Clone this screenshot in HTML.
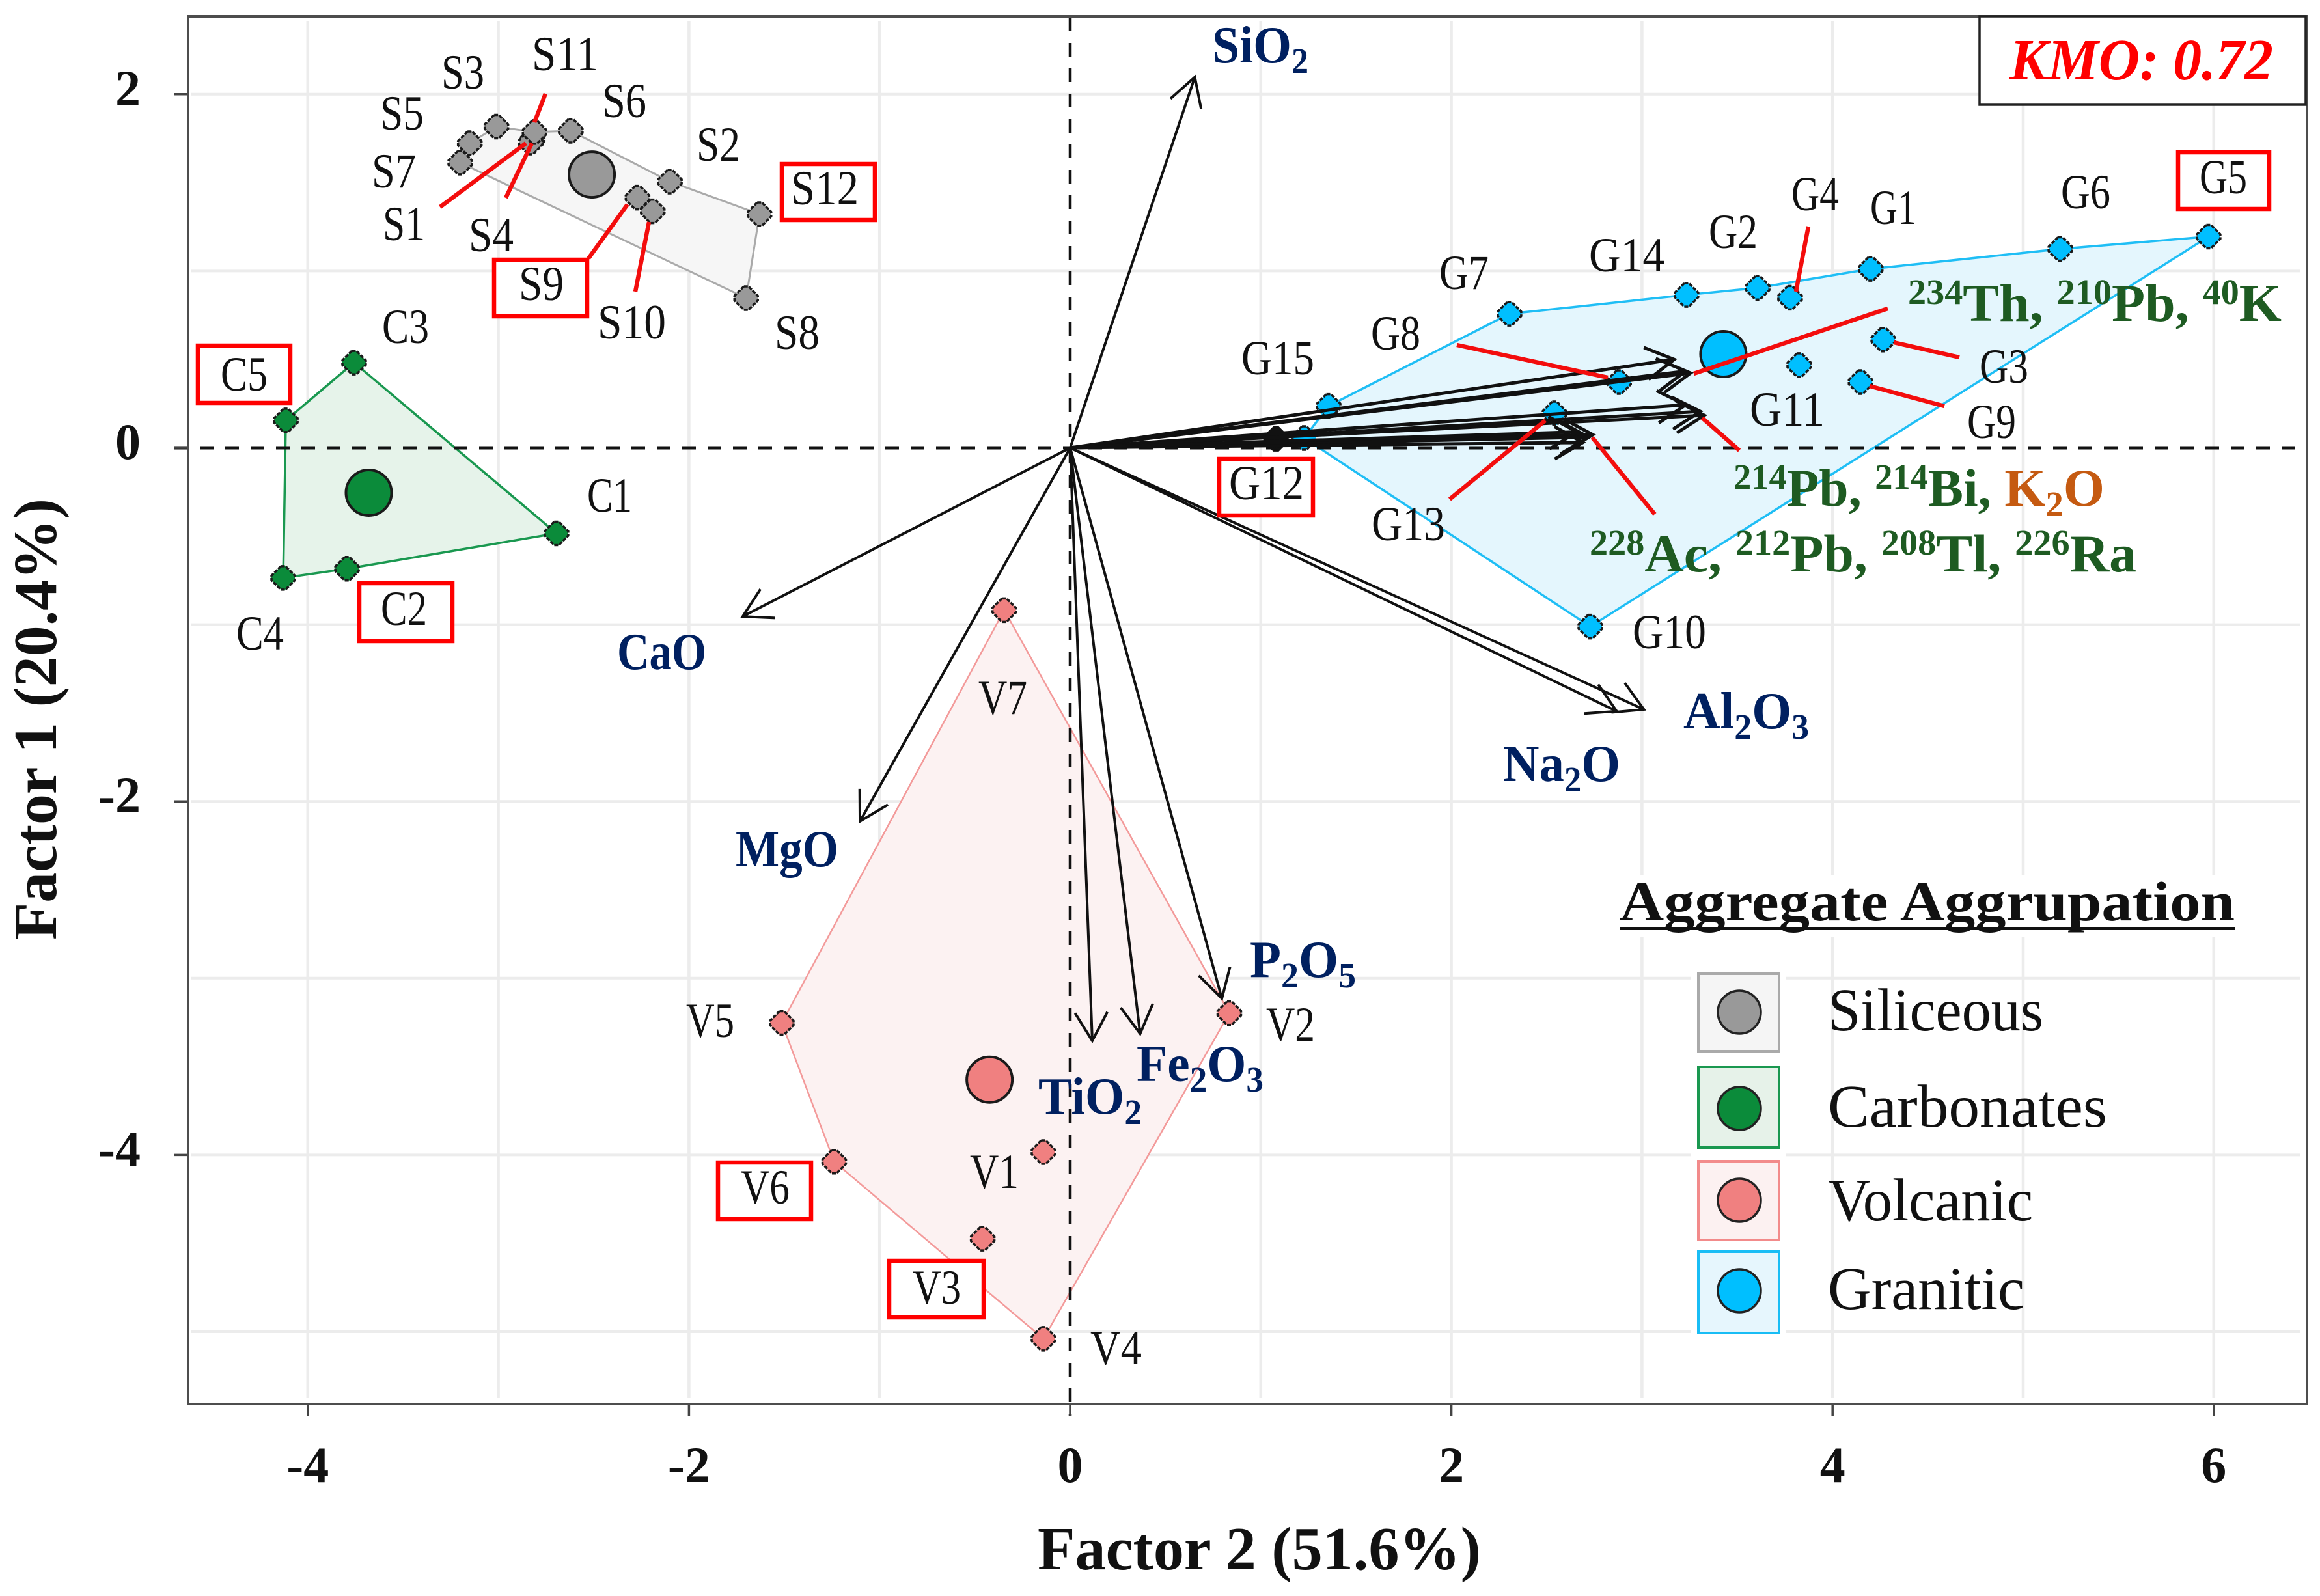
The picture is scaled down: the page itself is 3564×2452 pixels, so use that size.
<!DOCTYPE html>
<html lang="en">
<head>
<meta charset="utf-8">
<title>Factor analysis biplot</title>
<style>
html,body{margin:0;padding:0;background:#fff;}
svg{display:block;}
text{font-family:"Liberation Serif","DejaVu Serif",serif;}
.pt{font-size:75px;fill:#111;}
.ox{font-size:80px;font-weight:bold;fill:#002060;}
.ra{font-size:82px;font-weight:bold;fill:#1e5b22;}
.tk{font-size:78px;font-weight:bold;fill:#111;}
.lg{font-size:93px;fill:#111;}
.box{fill:#fff;stroke:#ff0000;stroke-width:6.5;}
.ld{stroke:#f30d0d;stroke-width:6.5;stroke-linecap:butt;}
</style>
</head>
<body>
<svg id="chart" xmlns="http://www.w3.org/2000/svg" width="3564" height="2452" viewBox="0 0 3564 2452">
  <rect x="0" y="0" width="3564" height="2452" fill="#ffffff"/>
  <g id="grid"></g>
  <rect x="2597" y="1490" width="147" height="570" fill="#ffffff"/>
  <rect x="2485" y="1345" width="955" height="95" fill="#ffffff"/>
  <g id="hulls"></g>
  <g id="zero"></g>
  <g id="ticks"></g>
  <rect x="289" y="25" width="3255" height="2132" fill="none" stroke="#4d4d4d" stroke-width="4"/>
  <g id="points"></g>
  <g id="arrows"></g>

  <g>
    <rect class="box" x="1201" y="252" width="143" height="86"/>
    <rect class="box" x="759" y="399" width="143" height="87"/>
    <rect class="box" x="304" y="531" width="142" height="88"/>
    <rect class="box" x="552" y="896" width="143" height="89"/>
    <rect class="box" x="3346" y="234" width="140" height="87"/>
    <rect class="box" x="1873" y="705" width="144" height="87"/>
    <rect class="box" x="1103" y="1786" width="143" height="87"/>
    <rect class="box" x="1366" y="1937" width="145" height="87"/>
  </g>

  <g>
    <text class="pt" x="678" y="136" textLength="66" lengthAdjust="spacingAndGlyphs">S3</text>
    <text class="pt" x="817" y="108" textLength="102" lengthAdjust="spacingAndGlyphs">S11</text>
    <text class="pt" x="584" y="199" textLength="67" lengthAdjust="spacingAndGlyphs">S5</text>
    <text class="pt" x="925" y="180" textLength="68" lengthAdjust="spacingAndGlyphs">S6</text>
    <text class="pt" x="571" y="288" textLength="68" lengthAdjust="spacingAndGlyphs">S7</text>
    <text class="pt" x="1070" y="247" textLength="67" lengthAdjust="spacingAndGlyphs">S2</text>
    <text class="pt" x="588" y="369" textLength="65" lengthAdjust="spacingAndGlyphs">S1</text>
    <text class="pt" x="720" y="386" textLength="69" lengthAdjust="spacingAndGlyphs">S4</text>
    <text class="pt" x="797" y="461" textLength="69" lengthAdjust="spacingAndGlyphs">S9</text>
    <text class="pt" x="918" y="520" textLength="105" lengthAdjust="spacingAndGlyphs">S10</text>
    <text class="pt" x="1190" y="536" textLength="69" lengthAdjust="spacingAndGlyphs">S8</text>
    <text class="pt" x="1215" y="314" textLength="104" lengthAdjust="spacingAndGlyphs">S12</text>
    <text class="pt" x="587" y="527" textLength="72" lengthAdjust="spacingAndGlyphs">C3</text>
    <text class="pt" x="339" y="600" textLength="72" lengthAdjust="spacingAndGlyphs">C5</text>
    <text class="pt" x="902" y="786" textLength="69" lengthAdjust="spacingAndGlyphs">C1</text>
    <text class="pt" x="585" y="960" textLength="71" lengthAdjust="spacingAndGlyphs">C2</text>
    <text class="pt" x="363" y="998" textLength="73" lengthAdjust="spacingAndGlyphs">C4</text>
    <text class="pt" x="2752" y="323" textLength="73" lengthAdjust="spacingAndGlyphs">G4</text>
    <text class="pt" x="2873" y="344" textLength="71" lengthAdjust="spacingAndGlyphs">G1</text>
    <text class="pt" x="3166" y="320" textLength="76" lengthAdjust="spacingAndGlyphs">G6</text>
    <text class="pt" x="3379" y="297" textLength="73" lengthAdjust="spacingAndGlyphs">G5</text>
    <text class="pt" x="2625" y="381" textLength="75" lengthAdjust="spacingAndGlyphs">G2</text>
    <text class="pt" x="2441" y="417" textLength="116" lengthAdjust="spacingAndGlyphs">G14</text>
    <text class="pt" x="2211" y="444" textLength="76" lengthAdjust="spacingAndGlyphs">G7</text>
    <text class="pt" x="2106" y="537" textLength="76" lengthAdjust="spacingAndGlyphs">G8</text>
    <text class="pt" x="1907" y="575" textLength="112" lengthAdjust="spacingAndGlyphs">G15</text>
    <text class="pt" x="3041" y="588" textLength="75" lengthAdjust="spacingAndGlyphs">G3</text>
    <text class="pt" x="3022" y="673" textLength="75" lengthAdjust="spacingAndGlyphs">G9</text>
    <text class="pt" x="2688" y="654" textLength="115" lengthAdjust="spacingAndGlyphs">G11</text>
    <text class="pt" x="1888" y="767" textLength="115" lengthAdjust="spacingAndGlyphs">G12</text>
    <text class="pt" x="2107" y="830" textLength="113" lengthAdjust="spacingAndGlyphs">G13</text>
    <text class="pt" x="2508" y="996" textLength="113" lengthAdjust="spacingAndGlyphs">G10</text>
    <text class="pt" x="1503" y="1097" textLength="75" lengthAdjust="spacingAndGlyphs">V7</text>
    <text class="pt" x="1054" y="1593" textLength="74" lengthAdjust="spacingAndGlyphs">V5</text>
    <text class="pt" x="1945" y="1599" textLength="75" lengthAdjust="spacingAndGlyphs">V2</text>
    <text class="pt" x="1490" y="1825" textLength="75" lengthAdjust="spacingAndGlyphs">V1</text>
    <text class="pt" x="1138" y="1849" textLength="75" lengthAdjust="spacingAndGlyphs">V6</text>
    <text class="pt" x="1402" y="2003" textLength="74" lengthAdjust="spacingAndGlyphs">V3</text>
    <text class="pt" x="1675" y="2096" textLength="79" lengthAdjust="spacingAndGlyphs">V4</text>
  </g>

  <g>
    <text class="ox" x="1862" y="96" textLength="148" lengthAdjust="spacingAndGlyphs">SiO<tspan font-size="55" dy="16">2</tspan></text>
    <text class="ox" x="2586" y="1119" textLength="193" lengthAdjust="spacingAndGlyphs">Al<tspan font-size="55" dy="16">2</tspan><tspan dy="-16">O</tspan><tspan font-size="55" dy="16">3</tspan></text>
    <text class="ox" x="2309" y="1200" textLength="180" lengthAdjust="spacingAndGlyphs">Na<tspan font-size="55" dy="16">2</tspan><tspan dy="-16">O</tspan></text>
    <text class="ox" x="948" y="1028" textLength="137" lengthAdjust="spacingAndGlyphs">CaO</text>
    <text class="ox" x="1130" y="1331" textLength="158" lengthAdjust="spacingAndGlyphs">MgO</text>
    <text class="ox" x="1920" y="1501" textLength="163" lengthAdjust="spacingAndGlyphs">P<tspan font-size="55" dy="16">2</tspan><tspan dy="-16">O</tspan><tspan font-size="55" dy="16">5</tspan></text>
    <text class="ox" x="1595" y="1711" textLength="159" lengthAdjust="spacingAndGlyphs">TiO<tspan font-size="55" dy="16">2</tspan></text>
    <text class="ox" x="1746" y="1661" textLength="195" lengthAdjust="spacingAndGlyphs">Fe<tspan font-size="55" dy="16">2</tspan><tspan dy="-16">O</tspan><tspan font-size="55" dy="16">3</tspan></text>
    <text class="ra" x="2931" y="493" textLength="574" lengthAdjust="spacingAndGlyphs"><tspan font-size="55" dy="-26">234</tspan><tspan dy="26">Th, </tspan><tspan font-size="55" dy="-26">210</tspan><tspan dy="26">Pb, </tspan><tspan font-size="55" dy="-26">40</tspan><tspan dy="26">K</tspan></text>
    <text class="ra" x="2663" y="777" textLength="570" lengthAdjust="spacingAndGlyphs"><tspan font-size="55" dy="-26">214</tspan><tspan dy="26">Pb, </tspan><tspan font-size="55" dy="-26">214</tspan><tspan dy="26">Bi, </tspan><tspan fill="#c55a11">K</tspan><tspan font-size="55" dy="16" fill="#c55a11">2</tspan><tspan dy="-16" fill="#c55a11">O</tspan></text>
    <text class="ra" x="2442" y="878" textLength="840" lengthAdjust="spacingAndGlyphs"><tspan font-size="55" dy="-26">228</tspan><tspan dy="26">Ac, </tspan><tspan font-size="55" dy="-26">212</tspan><tspan dy="26">Pb, </tspan><tspan font-size="55" dy="-26">208</tspan><tspan dy="26">Tl, </tspan><tspan font-size="55" dy="-26">226</tspan><tspan dy="26">Ra</tspan></text>
  </g>

  <g>
    <line class="ld" x1="838" y1="144" x2="821" y2="188"/>
    <line class="ld" x1="676" y1="318" x2="808" y2="220"/>
    <line class="ld" x1="777" y1="304" x2="817" y2="220"/>
    <line class="ld" x1="904" y1="397" x2="964" y2="314"/>
    <line class="ld" x1="976" y1="448" x2="997" y2="341"/>
    <line class="ld" x1="2778" y1="348" x2="2759" y2="448"/>
    <line class="ld" x1="2238" y1="530" x2="2470" y2="580"/>
    <line class="ld" x1="2602" y1="574" x2="2900" y2="474"/>
    <line class="ld" x1="2909" y1="526" x2="3010" y2="549"/>
    <line class="ld" x1="2872" y1="593" x2="2987" y2="624"/>
    <line class="ld" x1="2615" y1="642" x2="2672" y2="692"/>
    <line class="ld" x1="2227" y1="767" x2="2374" y2="646"/>
    <line class="ld" x1="2446" y1="672" x2="2542" y2="790"/>
  </g>

  <g>
    <rect x="3041" y="25" width="501" height="136" fill="#ffffff" stroke="#222222" stroke-width="3.5"/>
    <text x="3087" y="122" font-size="90" font-weight="bold" font-style="italic" fill="#ff0000" textLength="405" lengthAdjust="spacingAndGlyphs">KMO: 0.72</text>
  </g>

  <g id="tickLabels"></g>
  <text x="1594" y="2411" font-size="94" font-weight="bold" fill="#111" textLength="681" lengthAdjust="spacingAndGlyphs">Factor 2 (51.6%)</text>
  <text transform="translate(86 1444) rotate(-90)" font-size="94" font-weight="bold" fill="#111" textLength="678" lengthAdjust="spacingAndGlyphs">Factor 1 (20.4%)</text>

  <g>
    <text x="2488" y="1414" font-size="86" font-weight="bold" fill="#111" textLength="945" lengthAdjust="spacingAndGlyphs">Aggregate Aggrupation</text>
    <rect x="2489" y="1424" width="945" height="5" fill="#111"/>
    <rect x="2609" y="1496" width="124" height="119" fill="#f5f5f5" stroke="#aaaaaa" stroke-width="4"/>
    <circle cx="2672" cy="1555" r="33" fill="#999999" stroke="#222" stroke-width="3.5"/>
    <text class="lg" x="2808" y="1583" textLength="331" lengthAdjust="spacingAndGlyphs">Siliceous</text>
    <rect x="2609" y="1639" width="124" height="124" fill="#e6f2e9" stroke="#1a9850" stroke-width="4"/>
    <circle cx="2672" cy="1703" r="33" fill="#0b8b3a" stroke="#222" stroke-width="3.5"/>
    <text class="lg" x="2808" y="1731" textLength="429" lengthAdjust="spacingAndGlyphs">Carbonates</text>
    <rect x="2609" y="1784" width="124" height="121" fill="#fcf1f1" stroke="#f28b8b" stroke-width="4"/>
    <circle cx="2672" cy="1844" r="33" fill="#f08080" stroke="#222" stroke-width="3.5"/>
    <text class="lg" x="2808" y="1875" textLength="315" lengthAdjust="spacingAndGlyphs">Volcanic</text>
    <rect x="2609" y="1923" width="124" height="125" fill="#e6f6fd" stroke="#19bdf5" stroke-width="4"/>
    <circle cx="2672" cy="1983" r="33" fill="#00bfff" stroke="#222" stroke-width="3.5"/>
    <text class="lg" x="2808" y="2011" textLength="302" lengthAdjust="spacingAndGlyphs">Granitic</text>
  </g>
</svg>

<script>
// ---------- data ----------
const xGridValues = [-4, -3, -2, -1, 1, 2, 3, 4, 5, 6];
const yGridValues = [2, 1, -1, -2, -3, -4, -5];
const xTickValues = [-4, -2, 0, 2, 4, 6];
const yTickValues = [2, 0, -2, -4];

const siliceousNames = ['S1','S2','S3','S4','S5','S6','S7','S8','S9','S10','S11','S12'];
const siliceousF2 = [-2.82,-2.10,-3.01,-2.83,-3.15,-2.62,-3.20,-1.70,-2.27,-2.19,-2.81,-1.63];
const siliceousF1 = [1.745,1.506,1.817,1.727,1.723,1.793,1.613,0.847,1.415,1.338,1.786,1.322];
const siliceousHull = ['S7','S5','S3','S11','S6','S2','S12','S8'];
const siliceousCentroid = [-2.51, 1.546];

const carbonateNames = ['C1','C2','C3','C4','C5'];
const carbonateF2 = [-2.695,-3.794,-3.757,-4.129,-4.115];
const carbonateF1 = [-0.484,-0.684,0.482,-0.736,0.155];
const carbonateHull = ['C3','C1','C2','C4','C5'];
const carbonateCentroid = [-3.68, -0.254];

const volcanicNames = ['V1','V2','V3','V4','V5','V6','V7'];
const volcanicF2 = [-0.14,0.835,-0.459,-0.14,-1.513,-1.238,-0.346];
const volcanicF1 = [-3.984,-3.198,-4.474,-5.04,-3.253,-4.038,-0.918];
const volcanicHull = ['V7','V2','V4','V6','V5'];
const volcanicCentroid = [-0.423, -3.574];

const graniticNames = ['G1','G2','G3','G4','G5','G6','G7','G8','G9','G10','G11','G12','G13','G14','G15'];
const graniticF2 = [4.20,3.607,4.266,3.777,5.973,5.195,2.305,2.88,4.147,2.729,3.825,1.228,2.541,3.234,1.356];
const graniticF1 = [1.012,0.905,0.612,0.849,1.195,1.125,0.758,0.372,0.372,-1.011,0.468,0.055,0.195,0.865,0.237];
const graniticHull = ['G15','G7','G14','G2','G1','G6','G5','G10','G12'];
const graniticCentroid = [3.427, 0.53];

const hiddenPointF2 = [1.08];
const hiddenPointF1 = [0.05];

const arrowNames = ['sio2','cao','mgo','tio2','fe2o3','p2o5','al2o3','na2o','th234','pb210','k40','pb214','bi214','k2o','ac228','pb212','tl208','ra226'];
const arrowF2 = [0.654,-1.718,-1.103,0.116,0.367,0.796,3.01,2.867,3.255,3.23,3.169,3.306,3.23,3.327,2.742,2.72,2.69,2.66];
const arrowF1 = [2.097,-0.954,-2.113,-3.354,-3.314,-3.115,-1.48,-1.49,0.423,0.434,0.50,0.206,0.243,0.184,0.074,0.06,0.03,0.09];

// ---------- axes ----------
function xScale(v) { return 1644 + 292.8 * v; }
function yScale(v) { return 688 - 271.6 * v; }

const NS = 'http://www.w3.org/2000/svg';
function make(parent, tag, attrs) {
  const el = document.createElementNS(NS, tag);
  for (const k in attrs) el.setAttribute(k, attrs[k]);
  parent.appendChild(el);
  return el;
}

// ---------- grid ----------
const gridG = document.getElementById('grid');
xGridValues.forEach(function (v) {
  const el = make(gridG, 'line', {x1: xScale(v), x2: xScale(v), y1: 32, y2: 2148, stroke: '#ececec', 'stroke-width': 4.5});
  
  
});
yGridValues.forEach(function (v) {
  const el = make(gridG, 'line', {x1: 293, x2: 3534, y1: yScale(v), y2: yScale(v), stroke: '#ececec', 'stroke-width': 4});
  
  
});

// ---------- hulls ----------
function hullPoints(hull, names, f2, f1) {
  return hull.map(function (n) {
    const i = names.indexOf(n);
    return xScale(f2[i]) + ',' + yScale(f1[i]);
  }).join(' ');
}
const hullG = document.getElementById('hulls');
const siliceousPoly = make(hullG, 'polygon', {points: hullPoints(siliceousHull, siliceousNames, siliceousF2, siliceousF1), fill: '#f6f6f6', stroke: '#aaaaaa', 'stroke-width': 3});


const carbonatePoly = make(hullG, 'polygon', {points: hullPoints(carbonateHull, carbonateNames, carbonateF2, carbonateF1), fill: '#e6f3ea', stroke: '#1a9850', 'stroke-width': 3.5});


const volcanicPoly = make(hullG, 'polygon', {points: hullPoints(volcanicHull, volcanicNames, volcanicF2, volcanicF1), fill: '#fcf2f2', stroke: '#f39a9a', 'stroke-width': 2.5});


const graniticPoly = make(hullG, 'polygon', {points: hullPoints(graniticHull, graniticNames, graniticF2, graniticF1), fill: '#e4f6fd', stroke: '#1fbef5', 'stroke-width': 3.5});



// ---------- zero lines ----------
const zeroG = document.getElementById('zero');
const zeroH = make(zeroG, 'line', {x1: 268, x2: 3544, y1: yScale(0), y2: yScale(0), stroke: '#111', 'stroke-width': 5, 'stroke-dasharray': '21 18'});


const zeroV = make(zeroG, 'line', {x1: xScale(0), x2: xScale(0), y1: 27, y2: 2176, stroke: '#111', 'stroke-width': 4.5, 'stroke-dasharray': '21 18'});



// ---------- ticks ----------
const tickG = document.getElementById('ticks');
const tickLabelG = document.getElementById('tickLabels');
xTickValues.forEach(function (v) {
  const t = make(tickG, 'line', {x1: xScale(v), x2: xScale(v), y1: 2157, y2: 2176, stroke: '#444', 'stroke-width': 3.5});
  
  
  const l = make(tickLabelG, 'text', {x: xScale(v), y: 2277, class: 'tk', 'text-anchor': 'middle'});
  l.textContent = String(v);
  
  
});
yTickValues.forEach(function (v) {
  const t = make(tickG, 'line', {x1: 267, x2: 290, y1: yScale(v), y2: yScale(v), stroke: '#444', 'stroke-width': 3.5});
  
  
  const l = make(tickLabelG, 'text', {x: 216, y: yScale(v) + 17, class: 'tk', 'text-anchor': 'end'});
  l.textContent = String(v);
  
  
});

// ---------- points ----------
function markerPath(cx, cy) {
  const r = 18, s = 3.5;
  return 'M' + (cx - s) + ' ' + (cy - r) + 'L' + (cx + s) + ' ' + (cy - r) + 'L' + (cx + r) + ' ' + (cy - s) +
         'L' + (cx + r) + ' ' + (cy + s) + 'L' + (cx + s) + ' ' + (cy + r) + 'L' + (cx - s) + ' ' + (cy + r) +
         'L' + (cx - r) + ' ' + (cy + s) + 'L' + (cx - r) + ' ' + (cy - s) + 'Z';
}
const pointG = document.getElementById('points');
function drawGroup(key, names, f2, f1, centroid, fill) {
  names.forEach(function (n, i) {
    const m = make(pointG, 'path', {d: markerPath(xScale(f2[i]), yScale(f1[i])), fill: fill, stroke: '#1a1a1a', 'stroke-width': 3.5, 'stroke-linejoin': 'round', 'stroke-dasharray': '6 2'});
    
    
  });
  const c = make(pointG, 'circle', {cx: xScale(centroid[0]), cy: yScale(centroid[1]), r: 35, fill: fill, stroke: '#1a1a1a', 'stroke-width': 4});
  
  
}
drawGroup('siliceous', siliceousNames, siliceousF2, siliceousF1, siliceousCentroid, '#999999');
drawGroup('carbonates', carbonateNames, carbonateF2, carbonateF1, carbonateCentroid, '#0b8b3a');
drawGroup('volcanic', volcanicNames, volcanicF2, volcanicF1, volcanicCentroid, '#f08080');
drawGroup('granitic', graniticNames, graniticF2, graniticF1, graniticCentroid, '#00bfff');
hiddenPointF2.forEach(function (v, i) {
  const m = make(pointG, 'path', {d: markerPath(xScale(v), yScale(hiddenPointF1[i])), fill: '#111', stroke: '#111', 'stroke-width': 3});
  
  
});

// ---------- arrows ----------
const arrowG = document.getElementById('arrows');
arrowNames.forEach(function (n, i) {
  const x0 = xScale(0), y0 = yScale(0), x1 = xScale(arrowF2[i]), y1 = yScale(arrowF1[i]);
  const ang = Math.atan2(y0 - y1, x0 - x1), len = 50, spread = 0.52;
  const ax = x1 + len * Math.cos(ang + spread), ay = y1 + len * Math.sin(ang + spread);
  const bx = x1 + len * Math.cos(ang - spread), by = y1 + len * Math.sin(ang - spread);
  const p = make(arrowG, 'path', {
    d: 'M' + x0 + ' ' + y0 + 'L' + x1 + ' ' + y1 + 'M' + ax + ' ' + ay + 'L' + x1 + ' ' + y1 + 'L' + bx + ' ' + by,
    fill: 'none', stroke: '#111', 'stroke-width': i >= 8 ? 5 : 4
  });
  
  
});
</script>
</body>
</html>
